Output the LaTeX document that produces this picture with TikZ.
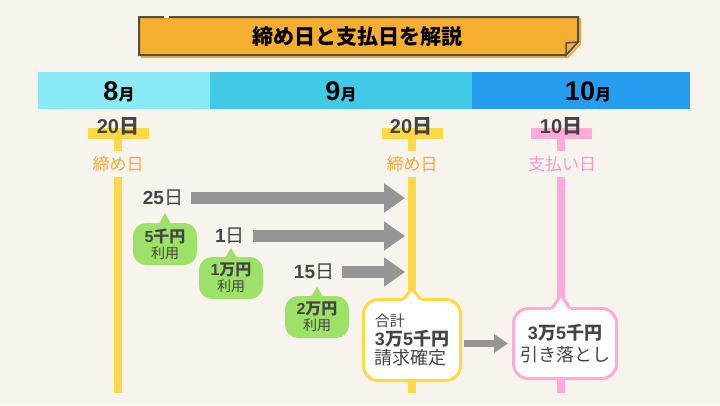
\documentclass[tikz,border=0pt]{standalone}
\usepackage{fontspec}
\setmainfont{Noto Sans CJK JP}
\newfontfamily\numfont{Liberation Sans}
\usetikzlibrary{arrows.meta}

\definecolor{paper}{HTML}{F7F3ED}
\definecolor{banner}{HTML}{F5AE30}
\definecolor{inkgray}{HTML}{4F4F4F}
\definecolor{monA}{HTML}{8AEBF6}
\definecolor{monB}{HTML}{41C9E6}
\definecolor{monC}{HTML}{279DEF}
\definecolor{closeY}{HTML}{FFD845}
\definecolor{closeTxt}{HTML}{F5A93B}
\definecolor{payP}{HTML}{FFAADB}
\definecolor{payTxt}{HTML}{F79AD2}
\definecolor{arrowG}{HTML}{959595}
\definecolor{useG}{HTML}{9DE168}
\definecolor{txt}{HTML}{444444}

\newcommand\fs[2]{\fontsize{#1}{#2}\selectfont}
\newcommand\dnum[1]{{\numfont\bfseries #1}}

\begin{document}
\begin{tikzpicture}[x=1pt,y=-1pt,
    tbar/.style={minimum width=61pt,minimum height=11pt,inner sep=0pt},
    daylbl/.style={text=txt,font=\fs{20}{20}\bfseries,inner sep=0pt},
    kind/.style={font=\fs{17}{17},inner sep=4.5pt},
    yline/.style={closeY,line width=8pt},
    pline/.style={payP,line width=8pt},
    uselbl/.style={text=txt,font=\fs{19}{19},inner sep=4pt},
    bubble/.style={fill=useG,rounded corners=13pt,minimum width=64pt,
                   minimum height=42pt,align=center,text=txt,inner sep=0pt},
    callout/.style={fill=white,line width=3pt,rounded corners=15pt,text=txt},
    garrow/.style={arrowG,line width=12pt,-{Triangle[length=21pt,width=28pt]}}]
  \useasboundingbox[fill=paper] (0,0) rectangle (720,405);

  % title banner
  \draw[banner,line width=2pt] (141,19) -- (580,19) -- (580,44) -- (568,57) -- (141,57);
  \filldraw[fill=banner,draw=inkgray,line width=2pt]
    (139,17) -- (578,17) -- (578,42) -- (566,55) -- (139,55) -- cycle;
  \filldraw[fill=banner,draw=inkgray,line width=1.5pt] (578,42) -- (566,43) -- (566,55) -- cycle;
  \draw[white,line width=2pt] (164,17) -- (169,17);
  \node (title) at (357,37) {\fs{21}{21}\bfseries 締め日と支払日を解説};

  % months
  \fill[monA] (38,72) rectangle (210,109);
  \fill[monB] (210,72) rectangle (472,109);
  \fill[monC] (472,72) rectangle (690,109);
  \node (aug) at (119,92) {\fs{27}{27}\dnum{8}\fs{16}{16}\bfseries 月};
  \node (sep) at (341,92) {\fs{27}{27}\dnum{9}\fs{16}{16}\bfseries 月};
  \node (oct) at (588,92) {\fs{27}{27}\dnum{10}\fs{16}{16}\bfseries 月};

  % closing and payment days
  \node[tbar,fill=closeY] (t1) at (118,133.5) {};
  \node[tbar,fill=closeY] (t2) at (412,133.5) {};
  \node[tbar,fill=payP]   (t3) at (561,133.5) {};
  \node[daylbl] (d1) at (118,126) {\dnum{20}日};
  \node[daylbl] (d2) at (411,126) {\dnum{20}日};
  \node[daylbl] (d3) at (561,126) {\dnum{10}日};
  \node[kind,text=closeTxt] (c1) at (118,164) {締め日};
  \node[kind,text=closeTxt] (c2) at (412,164) {締め日};
  \node[kind,text=payTxt]   (c3) at (562,164) {支払い日};
  \coordinate (e1) at (118,393);
  \coordinate (e2) at (412,393);
  \coordinate (e3) at (561,393);

  % invoice and payment
  \node[callout,draw=closeY,minimum width=97pt,minimum height=81pt,align=left]
    (total) at (412,340) {\fs{15}{17}合計\\[1pt]\fs{18}{20}\bfseries\dnum{3}万\dnum{5}千円\\[1pt]\fs{18}{20}請求確定};
  \node[callout,draw=payP,minimum width=103pt,minimum height=70pt,align=center]
    (pay) at (565,343.5) {\fs{18}{24}\bfseries\dnum{3}万\dnum{5}千円\\[5pt]\fs{18}{24}引き落とし};
  \coordinate (ptop) at (t3 |- pay.north);

  \draw[yline] (t1) -- (c1) (c1) -- (e1);
  \draw[yline] (t2) -- (c2) (c2) -- (total) (total) -- (e2);
  \draw[pline] (t3) -- (c3.north -| t3) (c3.south -| t3) -- (ptop) (t3 |- pay.south) -- (e3);

  \fill[white] ([xshift=-10pt,yshift=-3pt]total.north) -- (412,289)
    -- ([xshift=10pt,yshift=-3pt]total.north) -- cycle;
  \draw[closeY,line width=3pt] ([xshift=-9pt,yshift=-1.5pt]total.north) -- (412,289)
    -- ([xshift=9pt,yshift=-1.5pt]total.north);
  \fill[white] ([xshift=-10pt,yshift=-3pt]ptop) -- (561,295)
    -- ([xshift=10pt,yshift=-3pt]ptop) -- cycle;
  \draw[payP,line width=3pt] ([xshift=-9pt,yshift=-1.5pt]ptop) -- (561,295)
    -- ([xshift=9pt,yshift=-1.5pt]ptop);

  % purchases
  \node[uselbl] (n25) at (163,198) {\dnum{25}日};
  \node[uselbl] (n1)  at (230,236) {\dnum{1}日};
  \node[uselbl] (n15) at (314,272) {\dnum{15}日};
  \coordinate (a1) at (405,198);
  \coordinate (a2) at (405,236);
  \coordinate (a3) at (405,272);
  \path[garrow,shorten <=4pt] (n25) edge (a1)
                (n1)  edge (a2)
                (n15) edge (a3);
  \path[garrow,line width=7pt,-{Triangle[length=14pt,width=18pt]}]
    (total.east |- pay) edge[shorten <=2pt,shorten >=4pt] (pay);

  \node[bubble] (b1) at (165,244) {\fs{16}{18}\bfseries\dnum{5}千円\\[2pt]\fs{14}{18}利用};
  \node[bubble] (b2) at (231,278) {\fs{16}{18}\bfseries\dnum{1}万円\\[2pt]\fs{14}{18}利用};
  \node[bubble] (b3) at (317,317) {\fs{16}{18}\bfseries\dnum{2}万円\\[2pt]\fs{14}{18}利用};
  \fill[useG] ([xshift=-6pt,yshift=-1pt]b1.north) -- ++(6,-11) -- ++(6,11) -- cycle;
  \fill[useG] ([xshift=-6pt,yshift=-1pt]b2.north) -- ++(6,-10) -- ++(6,10) -- cycle;
  \fill[useG] ([xshift=-6pt,yshift=-1pt]b3.north) -- ++(6,-10) -- ++(6,10) -- cycle;
\end{tikzpicture}
\end{document}
